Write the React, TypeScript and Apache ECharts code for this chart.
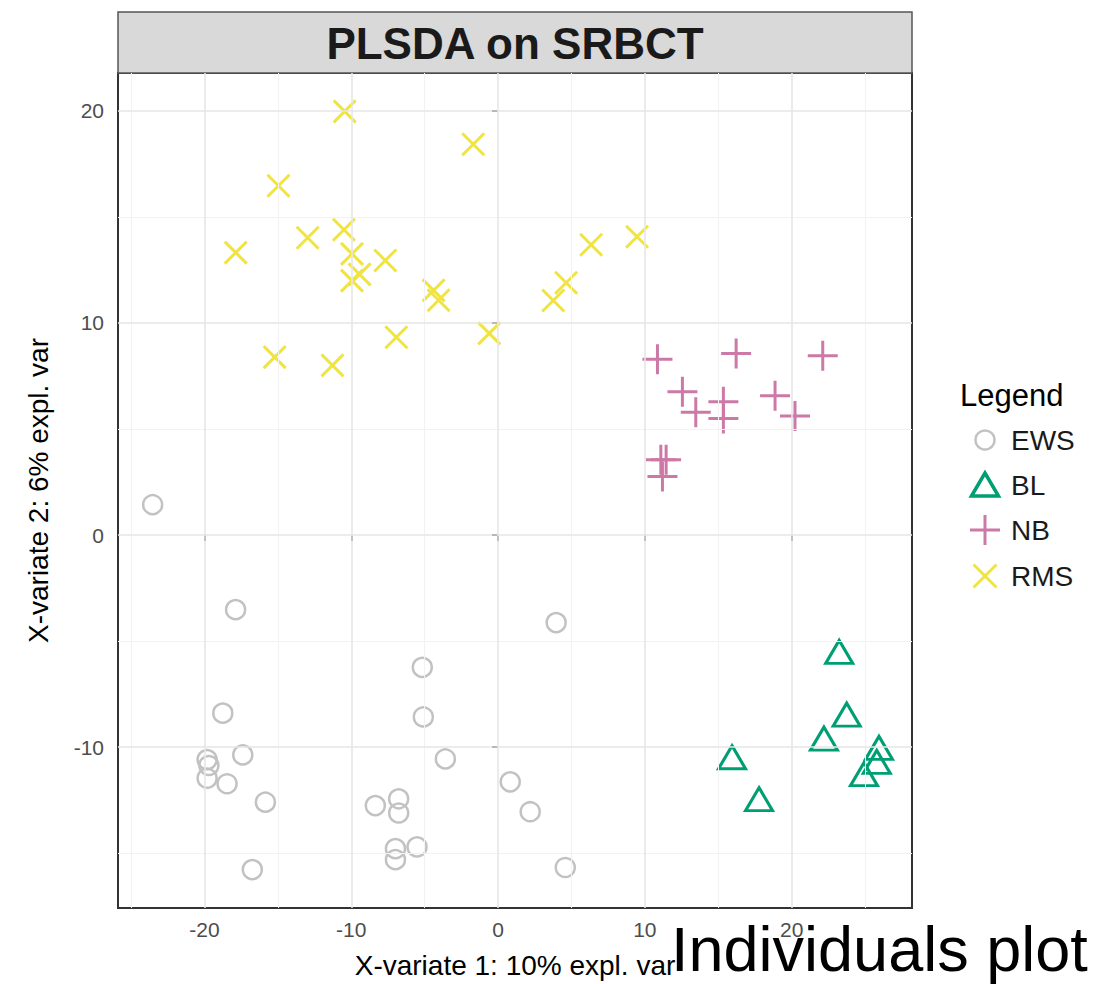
import React, { useEffect, useRef } from "react";
import * as echarts from "echarts";

// PLS-DA sample scores on the SRBCT data, component 1 vs component 2
const classNames = ["EWS", "BL", "NB", "RMS"];
const classColors = ["#C2C2C2", "#009E73", "#CC79A7", "#F0E442"];

const ewsX = [-23.53, -17.88, 3.96, -5.16, -5.09, -18.75, -17.39, -19.82, -19.7, -19.82, -18.46, -15.85, -3.59, 0.83, 2.19, -8.36, -6.77, -6.77, -6.99, -6.99, -5.52, -16.74, 4.58];
const ewsY = [1.43, -3.52, -4.13, -6.24, -8.58, -8.4, -10.37, -10.59, -10.87, -11.47, -11.73, -12.6, -10.56, -11.64, -13.05, -12.76, -12.44, -13.11, -14.79, -15.31, -14.71, -15.78, -15.68];

const blX = [23.24, 23.75, 22.2, 25.95, 25.8, 24.93, 15.94, 17.78];
const blY = [-5.51, -8.47, -9.6, -10.04, -10.7, -11.28, -10.48, -12.46];

const nbX = [10.86, 16.22, 22.12, 12.56, 13.47, 15.35, 15.35, 18.87, 20.23, 11.09, 11.45, 11.2];
const nbY = [8.29, 8.56, 8.45, 6.76, 5.79, 6.29, 5.5, 6.57, 5.61, 3.55, 3.55, 2.76];

const rmsX = [-10.45, -1.69, -14.96, -17.87, -12.97, -15.22, -11.28, -6.93, -0.6, 3.76, 4.64, 6.34, 9.47, -10.5, -9.95, -7.68, -9.95, -9.43, -4.39, -4.05];
const rmsY = [19.98, 18.43, 16.47, 13.32, 14.02, 8.39, 8.0, 9.33, 9.51, 11.06, 11.9, 13.69, 14.07, 14.4, 13.26, 12.95, 12.0, 12.29, 11.54, 11.07];

// axis extents, tick labels and grid lines
const xRange = [-25.89, 28.2];
const yRange = [-17.59, 21.79];
const xTicks = [-20, -10, 0, 10, 20];
const yTicks = [-10, 0, 10, 20];
const xMinor = [-25, -15, -5, 5, 15, 25];
const yMinor = [-15, -5, 5, 15];

const FONT = "'Liberation Sans', Arial, Helvetica, sans-serif";

const PLUS = "path://M0,5L10,5M5,0L5,10";
const CROSS = "path://M0,0L10,10M10,0L0,10";

const pairs = (xs: number[], ys: number[]) => xs.map((x, i) => [x, ys[i]]);

// legend key glyph, drawn around (cx, cy)
function legendKey(kind: number, cx: number, cy: number, color: string) {
  if (kind === 0) {
    return {
      type: "circle",
      shape: { cx, cy, r: 9.5 },
      style: { fill: "none", stroke: color, lineWidth: 2.5 },
      z: 5,
    };
  }
  if (kind === 1) {
    return {
      type: "polygon",
      shape: { points: [[cx - 13.5, cy + 11], [cx, cy - 12], [cx + 13.5, cy + 11]] },
      style: { fill: "none", stroke: color, lineWidth: 3.5 },
      z: 5,
    };
  }
  const h = kind === 2 ? 15 : 11.5;
  const segs =
    kind === 2
      ? [
          [cx - h, cy, cx + h, cy],
          [cx, cy - h, cx, cy + h],
        ]
      : [
          [cx - h, cy - h, cx + h, cy + h],
          [cx + h, cy - h, cx - h, cy + h],
        ];
  return {
    type: "group",
    z: 5,
    children: segs.map((s) => ({
      type: "line",
      shape: { x1: s[0], y1: s[1], x2: s[2], y2: s[3] },
      style: { stroke: color, lineWidth: 3 },
      z: 5,
    })),
  };
}

export default function App() {
  const ref = useRef<HTMLDivElement>(null);

  useEffect(() => {
    if (!ref.current) return;
    const chart = echarts.init(ref.current, null, { renderer: "svg" });

    const gridLines = {
      type: "scatter",
      data: [],
      z: 1,
      silent: true,
      markLine: {
        silent: true,
        symbol: ["none", "none"],
        label: { show: false },
        emphasis: { disabled: true },
        animation: false,
        data: [
          ...xMinor.map((v) => ({ xAxis: v, lineStyle: { color: "#f2f2f2", width: 1, type: "solid" } })),
          ...yMinor.map((v) => ({ yAxis: v, lineStyle: { color: "#f2f2f2", width: 1, type: "solid" } })),
          ...xTicks.map((v) => ({ xAxis: v, lineStyle: { color: "#e6e6e6", width: 1.6, type: "solid" } })),
          ...yTicks.map((v) => ({ yAxis: v, lineStyle: { color: "#e6e6e6", width: 1.6, type: "solid" } })),
        ],
      },
    };

    const pointSeries = (
      name: string,
      color: string,
      data: number[][],
      symbol: string,
      size: number | number[],
      width: number
    ) => ({
      type: "scatter",
      name,
      data,
      symbol,
      symbolSize: size,
      z: 3,
      itemStyle: { color: "rgba(0,0,0,0)", borderColor: color, borderWidth: width, opacity: 1 },
      emphasis: { disabled: true },
    });

    const legendRows = [440, 485, 530, 576];
    const legendGraphics: any[] = [];
    classNames.forEach((n, i) => {
      legendGraphics.push(legendKey(i, 985, legendRows[i], classColors[i]));
      legendGraphics.push({
        type: "text",
        x: 1011,
        y: legendRows[i],
        style: {
          text: n,
          fill: "#1a1a1a",
          font: `28px ${FONT}`,
          align: "left",
          verticalAlign: "middle",
        },
        z: 5,
      });
    });

    chart.setOption({
      animation: false,
      backgroundColor: "#ffffff",
      textStyle: { fontFamily: FONT },
      grid: {
        left: 118,
        right: 188,
        top: 73,
        bottom: 75,
        show: true,
        backgroundColor: "#ffffff",
        borderColor: "#333333",
        borderWidth: 2,
      },
      xAxis: {
        type: "value",
        min: xRange[0],
        max: xRange[1],
        splitLine: { show: false },
        axisLine: { show: false },
        axisTick: {
          show: true,
          customValues: xTicks,
          length: 6,
          lineStyle: { color: "#333333", width: 2 },
        },
        axisLabel: {
          customValues: xTicks,
          color: "#4d4d4d",
          fontSize: 21,
          margin: 11,
          fontFamily: FONT,
        },
        name: "X-variate 1: 10% expl. var",
        nameLocation: "middle",
        nameGap: 43,
        nameTextStyle: { color: "#000000", fontSize: 28, fontFamily: FONT },
      },
      yAxis: {
        type: "value",
        min: yRange[0],
        max: yRange[1],
        splitLine: { show: false },
        axisLine: { show: false },
        axisTick: {
          show: true,
          customValues: yTicks,
          length: 6,
          lineStyle: { color: "#333333", width: 2 },
        },
        axisLabel: {
          customValues: yTicks,
          color: "#4d4d4d",
          fontSize: 21,
          margin: 14,
          fontFamily: FONT,
        },
        name: "X-variate 2: 6% expl. var",
        nameLocation: "middle",
        nameRotate: 90,
        nameGap: 66,
        nameTextStyle: { color: "#000000", fontSize: 28, fontFamily: FONT },
      },
      graphic: [
        {
          type: "rect",
          shape: { x: 118, y: 12, width: 794, height: 61 },
          style: { fill: "#d9d9d9", stroke: "#555555", lineWidth: 1.5 },
          z: 0,
        },
        {
          type: "text",
          x: 515,
          y: 43,
          style: {
            text: "PLSDA on SRBCT",
            fill: "#1a1a1a",
            font: `bold 44px ${FONT}`,
            align: "center",
            verticalAlign: "middle",
          },
          z: 5,
        },
        {
          type: "text",
          x: 960,
          y: 395,
          style: {
            text: "Legend",
            fill: "#000000",
            font: `31px ${FONT}`,
            align: "left",
            verticalAlign: "middle",
          },
          z: 5,
        },
        ...legendGraphics,
        {
          type: "text",
          x: 671,
          y: 949,
          style: {
            text: "Individuals plot",
            fill: "#000000",
            font: `63px ${FONT}`,
            align: "left",
            verticalAlign: "middle",
          },
          z: 10,
        },
      ],
      series: [
        gridLines,
        pointSeries("EWS", classColors[0], pairs(ewsX, ewsY), "circle", 19, 2.5),
        pointSeries("BL", classColors[1], pairs(blX, blY), "triangle", [27, 23], 3),
        pointSeries("NB", classColors[2], pairs(nbX, nbY), PLUS, 30, 3),
        pointSeries("RMS", classColors[3], pairs(rmsX, rmsY), CROSS, 22, 3),
      ],
    });

    return () => chart.dispose();
  }, []);

  return (
    <div
      ref={ref}
      style={{ position: "fixed", left: 0, top: 0, width: 1100, height: 984, background: "#ffffff" }}
    />
  );
}
